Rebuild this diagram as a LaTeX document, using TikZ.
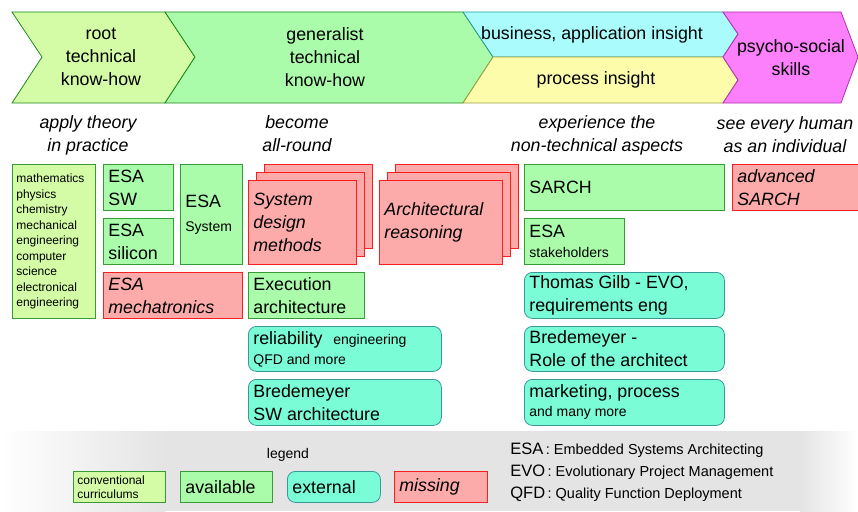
\documentclass[tikz,border=0pt]{standalone}
\usepackage{fontspec}
\setmainfont{Liberation Sans}
\usetikzlibrary{positioning,shadows}
\definecolor{currfill}{HTML}{D4FCA6}
\definecolor{availfill}{HTML}{AAFCAA}
\definecolor{greenline}{HTML}{3A9A3A}
\definecolor{missfill}{HTML}{FCAAAA}
\definecolor{missline}{HTML}{F62020}
\definecolor{extfill}{HTML}{7AFCD6}
\definecolor{extline}{HTML}{3A9898}
\definecolor{bizfill}{HTML}{AAFCFC}
\definecolor{bizline}{HTML}{2A9A9A}
\definecolor{procfill}{HTML}{FCFCAA}
\definecolor{procline}{HTML}{A0A040}
\definecolor{psyfill}{HTML}{FC80FC}
\definecolor{psyline}{HTML}{B030B0}
\definecolor{chevline}{HTML}{1A8A1A}
\definecolor{legendgray}{HTML}{E4E4E4}
\newcommand{\bigtxt}{\fontsize{17.8}{23}\selectfont}
\newcommand{\smalltxt}{\fontsize{14}{17}\selectfont}
\newcommand{\tinytxt}{\fontsize{12}{15.5}\selectfont}

\begin{document}
\begin{tikzpicture}[x=1pt, y=-1pt, line width=0.8pt,
		box/.style={anchor=north west, align=flush left, inner xsep=5pt, inner ysep=0pt, font=\bigtxt},
		size/.style 2 args={text width=#1, minimum height=#2},
		curr/.style={box, fill=currfill, draw=greenline},
		avail/.style={box, fill=availfill, draw=greenline},
		ext/.style={box, fill=extfill, draw=extline, rounded corners=8pt},
		miss/.style={box, fill=missfill, draw=missline, font=\bigtxt\itshape},
		stack/.style={copy shadow={shadow xshift=16pt, shadow yshift=16pt, fill=missfill, draw=missline},
			copy shadow={shadow xshift=8pt, shadow yshift=8pt, fill=missfill, draw=missline}},
		head/.style={align=center, font=\bigtxt\itshape},
		band/.style={align=center, font=\bigtxt}]
	\useasboundingbox (0,0) rectangle (858,511);
	%\draw[step=50pt,gray,very thin] (0,0) grid (858,511);

	% legend background
	\shade[left color=white, right color=legendgray] (0,431) rectangle (165,511);
	\fill[legendgray] (165,431) rectangle (800,511);
	\shade[left color=legendgray, right color=white] (800,431) rectangle (858,511);

	% chevrons
	\filldraw[fill=currfill, draw=chevline] (12,12) -- (165,12) -- (195,57) -- (165,103) -- (12,103) -- (42,57) -- cycle;
	\filldraw[fill=availfill, draw=chevline] (165,12) -- (463,12) -- (493,57) -- (463,103) -- (165,103) -- (195,57) -- cycle;
	\filldraw[fill=bizfill, draw=bizline] (463,12) -- (723,12) -- (738,34) -- (723,57) -- (493,57) -- cycle;
	\filldraw[fill=procfill, draw=procline] (493,57) -- (723,57) -- (738,80) -- (723,103) -- (463,103) -- cycle;
	\filldraw[fill=psyfill, draw=psyline] (723,12) -- (841,12) -- (858,57) -- (841,103) -- (723,103) -- (738,80) -- (723,57) -- (738,34) -- cycle;
	\node[band] (root) at (101,57) {root\\technical\\know-how};
	\node[band] (generalist) at (325,57) {generalist\\technical\\know-how};
	\node[band] (business) at (592,35) {business, application insight};
	\node[band] (process) at (596,80) {process insight};
	\node[band] (psycho) at (791,58) {psycho-social\\skills};

	% headings
	\node[head] (theory) at (88,135) {apply theory\\in practice};
	\node[head] (allround) at (297,134) {become\\all-round};
	\node[head] (nontech) at (597,135) {experience the\\non-technical aspects};
	\node[head] (human) at (785,135) {see every human\\as an individual};

	% root column
	\node[curr, size={75pt}{154pt}, inner xsep=4pt, font=\tinytxt] (curric) at (12,164)
		{mathematics\\physics\\chemistry\\mechanical\\engineering\\computer\\science\\electronical\\engineering};
	\node[avail, size={60pt}{46pt}] (esasw) at (103,164) {ESA\\SW};
	\node[avail, size={60pt}{46pt}] (esasilicon) at (103,218) {ESA\\silicon};
	\node[avail, size={52pt}{100pt}] (esasystem) at (180,164) {ESA\\[1pt]{\smalltxt System}};
	\node[miss, size={129pt}{46pt}] (mechatronics) at (103,272) {ESA\\mechatronics};

	% generalist column
	\node[miss, stack, size={98pt}{84pt}] (sysdesign) at (248,180) {System\\design\\methods};
	\node[miss, stack, size={113pt}{84pt}] (archreason) at (379,180) {Architectural\\reasoning};
	\node[avail, size={106pt}{46pt}] (execarch) at (248,272) {Execution\\architecture};
	\node[ext, size={183pt}{45pt}] (reliability) at (248,326)
		{reliability\hspace{0.6em}{\smalltxt engineering}\\[-3pt]{\smalltxt QFD and more}};
	\node[ext, size={183pt}{46pt}] (bredemeyersw) at (248,379) {Bredemeyer\\SW architecture};

	% non-technical column
	\node[avail, size={190pt}{46pt}] (sarch) at (524,164) {SARCH};
	\node[miss, size={120pt}{46pt}] (advsarch) at (732,164) {advanced\\SARCH};
	\node[avail, size={90pt}{46pt}] (stakeholders) at (524,218) {ESA\\[-3pt]{\smalltxt stakeholders}};
	\node[ext, size={190pt}{46pt}] (gilb) at (524,272) {Thomas Gilb - EVO,\\requirements eng};
	\node[ext, size={190pt}{45pt}] (bredemeyerrole) at (524,326) {Bredemeyer -\\Role of the architect};
	\node[ext, size={190pt}{46pt}] (marketing) at (524,379) {marketing, process\\[-4pt]{\smalltxt and many more}};

	% legend
	\node[font=\smalltxt] (legend) at (288,455) {legend};
	\node[curr, size={84pt}{31pt}, inner xsep=4pt, font=\fontsize{12}{14}\selectfont] (lgcurr) at (73,471) {conventional\\curriculums};
	\node[avail, size={82pt}{31pt}] (lgavail) at (180,471) {available};
	\node[ext, size={83pt}{31pt}] (lgext) at (287,471) {external};
	\node[miss, size={83pt}{31pt}] (lgmiss) at (394,471) {missing};

	% abbreviations
	\node[anchor=base west, inner sep=0pt] (esa) at (510,454) {{\fontsize{16.5}{20}\selectfont ESA}{\fontsize{14.5}{15}\selectfont\,: Embedded Systems Architecting}};
	\node[anchor=base west, inner sep=0pt] (evo) at (510,476) {{\fontsize{16.5}{20}\selectfont EVO}{\fontsize{14.5}{15}\selectfont\,: Evolutionary Project Management}};
	\node[anchor=base west, inner sep=0pt] (qfd) at (510,498) {{\fontsize{16.5}{20}\selectfont QFD}{\fontsize{14.5}{15}\selectfont\,: Quality Function Deployment}};
\end{tikzpicture}
\end{document}
